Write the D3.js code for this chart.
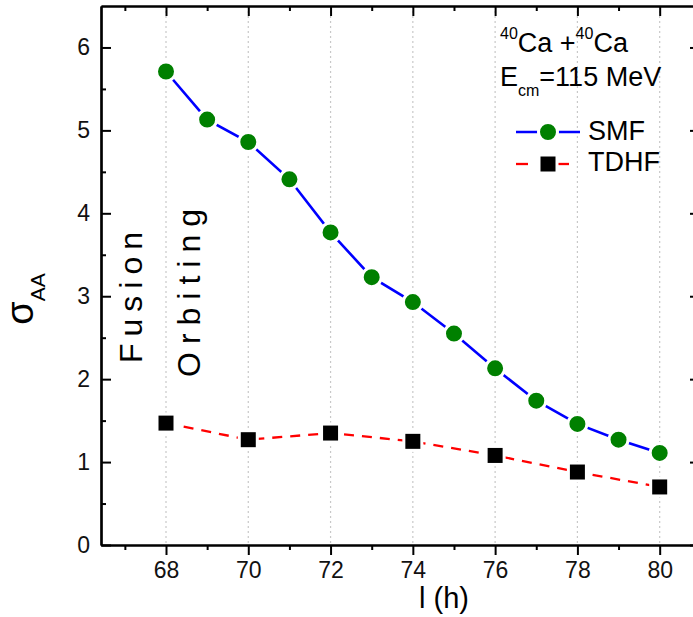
<!DOCTYPE html>
<html><head><meta charset="utf-8">
<script src="https://cdn.jsdelivr.net/npm/d3@7"></script>
<style>body{margin:0;background:#fff}svg{display:block}text{font-family:Arial,"Liberation Sans",sans-serif}</style>
</head><body><svg id="c" width="693" height="617"></svg>
<script>
const smfL = [68,69,70,71,72,73,74,75,76,77,78,79,80];
const smfV = [5.71,5.13,4.86,4.41,3.77,3.23,2.93,2.55,2.13,1.74,1.46,1.27,1.11];
const tdhfL = [68,70,72,74,76,78,80];
const tdhfV = [1.47,1.27,1.35,1.25,1.08,0.88,0.70];
const xTicks = [68,70,72,74,76,78,80];
const xMinor = [67,69,71,73,75,77,79];
const yTicks = [0,1,2,3,4,5,6];
const yMinor = [0.5,1.5,2.5,3.5,4.5,5.5];

const svg = d3.select("#c");
const L=101,R=700,T=6,B=545;
const x = d3.scaleLinear().domain([66.42,80.98]).range([L,R]);
const y = d3.scaleLinear().domain([0,6.5]).range([B,T]);

// grid
svg.append("g").selectAll("line").data(xTicks).join("line")
  .attr("x1",d=>x(d)).attr("x2",d=>x(d)).attr("y1",T).attr("y2",B)
  .attr("stroke","#c8c8c8").attr("stroke-width",1.2).attr("stroke-dasharray","2,3");

// axes
const ax = (g)=>g.call(s=>s.select(".domain").attr("stroke","#000").attr("stroke-width",2.2))
  .call(s=>s.selectAll(".tick line").attr("stroke","#000").attr("stroke-width",2))
  .call(s=>s.selectAll("text").attr("font-size",23).attr("fill","#111"));
svg.append("g").attr("transform",`translate(0,${B})`)
  .call(d3.axisBottom(x).tickValues(xTicks).tickFormat(d3.format("d")).tickSize(10).tickSizeOuter(0).tickPadding(7)).call(ax);
svg.append("g").attr("transform",`translate(0,${B})`)
  .call(d3.axisBottom(x).tickValues(xMinor).tickFormat("").tickSize(5).tickSizeOuter(0)).call(ax);
svg.append("g").attr("transform",`translate(0,${T})`)
  .call(d3.axisBottom(x).tickValues(xTicks).tickFormat("").tickSize(10).tickSizeOuter(0)).call(ax);
svg.append("g").attr("transform",`translate(0,${T})`)
  .call(d3.axisBottom(x).tickValues(xMinor).tickFormat("").tickSize(5).tickSizeOuter(0)).call(ax);
svg.append("g").attr("transform",`translate(${L},0)`)
  .call(d3.axisRight(y).tickValues(yTicks).tickFormat("").tickSize(10).tickSizeOuter(0)).call(ax);
svg.append("g").attr("transform",`translate(${L},0)`)
  .call(d3.axisRight(y).tickValues(yMinor).tickFormat("").tickSize(5).tickSizeOuter(0)).call(ax);
svg.append("g").attr("transform",`translate(${L},0)`)
  .call(d3.axisLeft(y).tickValues(yTicks).tickFormat(d3.format("d")).tickSize(0).tickPadding(11)).call(ax)
  .call(s=>s.select(".domain").remove()).call(s=>s.selectAll(".tick line").remove());
svg.append("g").attr("transform",`translate(${R},0)`)
  .call(d3.axisLeft(y).tickValues(yTicks).tickFormat("").tickSize(10).tickSizeOuter(0)).call(ax);

// lines
const line = d3.line().x(d=>x(d[0])).y(d=>y(d[1]));
const smf = smfL.map((l,i)=>[l,smfV[i]]);
const tdhf = tdhfL.map((l,i)=>[l,tdhfV[i]]);
svg.append("path").attr("d",line(tdhf)).attr("fill","none").attr("stroke","#ff0000").attr("stroke-width",2.3).attr("stroke-dasharray","10,8");
svg.append("path").attr("d",line(smf)).attr("fill","none").attr("stroke","#0000ff").attr("stroke-width",2.6);
svg.append("g").selectAll("rect").data(tdhf).join("rect")
  .attr("x",d=>x(d[0])-9).attr("y",d=>y(d[1])-9).attr("width",18).attr("height",18)
  .attr("fill","#000").attr("stroke","#fff").attr("stroke-width",3);
svg.append("g").selectAll("circle").data(smf).join("circle")
  .attr("cx",d=>x(d[0])).attr("cy",d=>y(d[1])).attr("r",9.5)
  .attr("fill","#008000").attr("stroke","#fff").attr("stroke-width",3);

// legend
svg.append("line").attr("x1",516).attr("x2",580).attr("y1",132).attr("y2",132).attr("stroke","#0000ff").attr("stroke-width",2.6);
svg.append("circle").attr("cx",548).attr("cy",132).attr("r",9.5).attr("fill","#008000").attr("stroke","#fff").attr("stroke-width",3);
svg.append("text").attr("x",588).attr("y",140).attr("font-size",27).text("SMF");
svg.append("line").attr("x1",516).attr("x2",528).attr("y1",164).attr("y2",164).attr("stroke","#ff0000").attr("stroke-width",2.3);
svg.append("line").attr("x1",557).attr("x2",569).attr("y1",164).attr("y2",164).attr("stroke","#ff0000").attr("stroke-width",2.3);
svg.append("rect").attr("x",539).attr("y",155).attr("width",18).attr("height",18).attr("fill","#000").attr("stroke","#fff").attr("stroke-width",3);
svg.append("text").attr("x",588).attr("y",171).attr("font-size",27).text("TDHF");

// annotation
const t1 = svg.append("text").attr("x",500).attr("y",52).attr("font-size",27);
t1.append("tspan").attr("font-size",16).attr("dy",-13).text("40");
t1.append("tspan").attr("dy",13).text("Ca +");
t1.append("tspan").attr("font-size",16).attr("dy",-13).text("40");
t1.append("tspan").attr("dy",13).text("Ca");
const t2 = svg.append("text").attr("x",500).attr("y",86).attr("font-size",27);
t2.append("tspan").text("E");
t2.append("tspan").attr("font-size",16).attr("dy",10).text("cm");
t2.append("tspan").attr("dy",-10).text("=115 MeV");

// rotated labels
svg.append("text").attr("transform","translate(142,363) rotate(-90)").attr("font-size",32).attr("letter-spacing",7).text("Fusion");
svg.append("text").attr("transform","translate(200,377) rotate(-90)").attr("font-size",32).attr("letter-spacing",8).text("Orbiting");

// axis titles
svg.append("text").attr("x",444).attr("y",608).attr("text-anchor","middle").attr("font-size",29).text("l (h)");
const yt = svg.append("text").attr("transform","translate(33,299) rotate(-90)").attr("text-anchor","middle").attr("font-size",38);
yt.append("tspan").text("σ");
yt.append("tspan").attr("font-size",21).attr("dy",12).text("AA");
</script></body></html>
